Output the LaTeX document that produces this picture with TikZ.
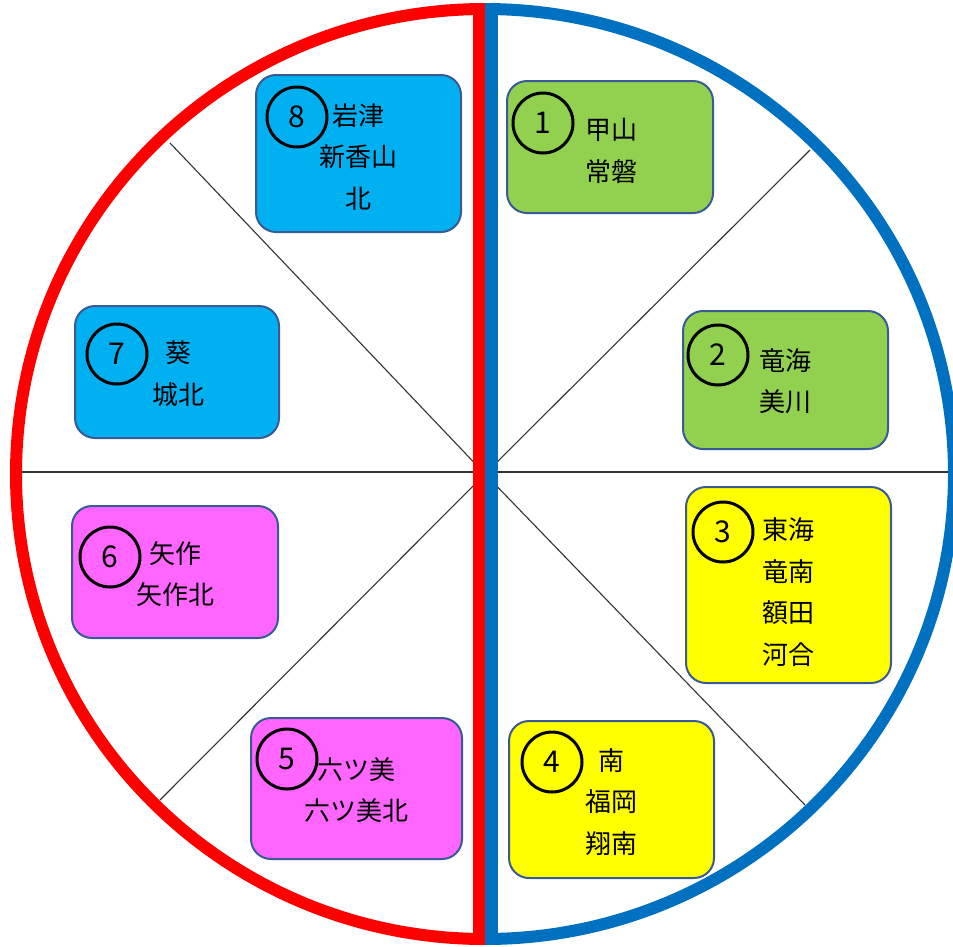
\documentclass[tikz,border=0pt]{standalone}
\usepackage{fontspec}
\setmainfont{Noto Sans CJK JP}
\definecolor{cred}{HTML}{FF0000}
\definecolor{cblue}{HTML}{0070C0}
\definecolor{fblue}{HTML}{00B0F0}
\definecolor{fgreen}{HTML}{92D050}
\definecolor{fyellow}{HTML}{FFFF00}
\definecolor{fpink}{HTML}{FF66FF}
\definecolor{bordercol}{HTML}{3A5A95}
\definecolor{linecol}{HTML}{333333}
\begin{document}
\begin{tikzpicture}[x=1pt,y=-1pt,
  stationbox/.style={draw=bordercol, line width=2pt, rounded corners=20pt, inner sep=0pt},
  numcircle/.style={circle, draw=black, line width=3pt, minimum size=60pt, inner sep=0pt, font=\fontsize{30pt}{30pt}\selectfont},
  names/.style={align=center, inner sep=0pt, font=\fontsize{26pt}{41.5pt}\selectfont},
  divider/.style={draw=linecol, line width=1.1pt}]
\useasboundingbox (0,0) rectangle (953,946);
\fill[white] (0,0) rectangle (953,946);
% sector lines
\coordinate (c) at (485,474);
\coordinate (hl) at (22,472);
\coordinate (hr) at (953,472);
\coordinate (tl) at (170,143);
\coordinate (tr) at (810,150);
\coordinate (bl) at (160,800);
\coordinate (br) at (805,805);
\draw[divider] (hl) -- (hr);
\draw[divider] (c) -- (tl);
\draw[divider] (c) -- (tr);
\draw[divider] (c) -- (bl);
\draw[divider] (c) -- (br);
% circle halves
\begin{scope}
  \clip (0,0) rectangle (485,946);
  \draw[cred, line width=12pt] (c) ellipse [x radius=469pt, y radius=465pt];
\end{scope}
\begin{scope}
  \clip (485,0) rectangle (960,946);
  \draw[cblue, line width=12pt] (c) ellipse [x radius=469pt, y radius=465pt];
\end{scope}
% vertical bar
\coordinate (rt) at (479,8);
\coordinate (rb) at (479,940);
\coordinate (bt) at (491.5,8);
\coordinate (bb) at (491.5,940);
\draw[cred, line width=12pt] (rt) -- (rb);
\draw[cblue, line width=13pt] (bt) -- (bb);
% boxes
\node[stationbox, fill=fblue, minimum width=205pt, minimum height=157pt] (b8) at (358.5,153.5) {};
\node[stationbox, fill=fgreen, minimum width=206pt, minimum height=132pt] (b1) at (610,147) {};
\node[stationbox, fill=fgreen, minimum width=205pt, minimum height=138pt] (b2) at (785.5,380) {};
\node[stationbox, fill=fyellow, minimum width=205pt, minimum height=196pt] (b3) at (788.5,585) {};
\node[stationbox, fill=fyellow, minimum width=205pt, minimum height=157pt] (b4) at (611.5,799.5) {};
\node[stationbox, fill=fpink, minimum width=211pt, minimum height=141pt] (b5) at (356.5,788.5) {};
\node[stationbox, fill=fpink, minimum width=206pt, minimum height=132pt] (b6) at (175,572) {};
\node[stationbox, fill=fblue, minimum width=204pt, minimum height=132pt] (b7) at (177,372) {};
% numbers
\node[numcircle] (n8) at (297,117) {8};
\node[numcircle] (n1) at (543,123) {1};
\node[numcircle] (n2) at (718,355) {2};
\node[numcircle] (n3) at (723,532) {3};
\node[numcircle] (n4) at (552,762) {4};
\node[numcircle] (n5) at (287,759) {5};
\node[numcircle] (n6) at (110,557) {6};
\node[numcircle] (n7) at (117,354) {7};
% names
\node[names] (t8) at (358,156.5) {岩津\\新香山\\北};
\node[names] (t1) at (611,151) {甲山\\常磐};
\node[names] (t2) at (785,381) {竜海\\美川};
\node[names] (t3) at (788,592) {東海\\竜南\\額田\\河合};
\node[names] (t4) at (611,802) {南\\福岡\\翔南};
\node[names] (t5) at (356,790) {六ツ美\\六ツ美北};
\node[names] (t6) at (175,574) {矢作\\矢作北};
\node[names] (t7) at (178,373.5) {葵\\城北};
\end{tikzpicture}
\end{document}
